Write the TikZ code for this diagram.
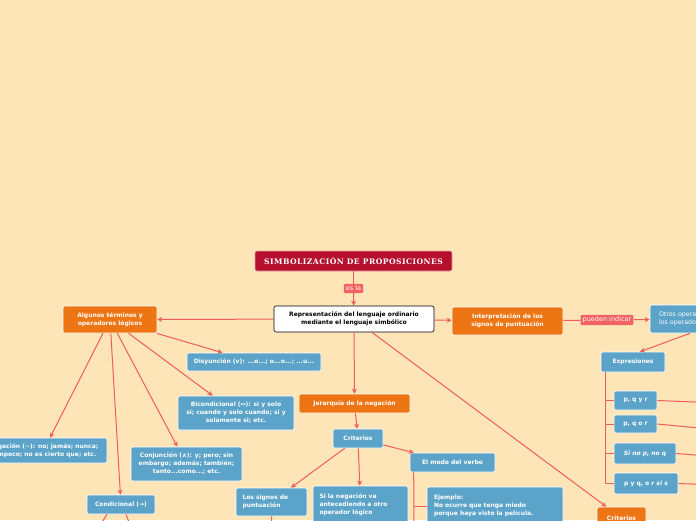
\documentclass[tikz,border=0pt]{standalone}
\usepackage{fontspec}
\setsansfont{DejaVu Sans}
\newfontfamily\titlefont[LetterSpace=6]{DejaVu Serif}
\usetikzlibrary{arrows.meta}
\definecolor{bgpeach}{RGB}{254,229,184}
\definecolor{mmorange}{RGB}{237,117,20}
\definecolor{mmblue}{RGB}{91,163,200}
\definecolor{mmline}{RGB}{240,92,90}
\definecolor{mmlabel}{RGB}{242,98,96}
\definecolor{mmtitle}{RGB}{181,17,47}

\begin{document}
\begin{tikzpicture}[x=1pt, y=-1pt,
    box/.style={rounded corners=2pt, draw=white, line width=0.6pt, text=white, align=center, inner sep=1.5pt,
      font=\sffamily\bfseries\fontsize{6}{8}\selectfont},
    topic/.style={box, fill=mmorange},
    idea/.style={box, fill=mmblue},
    lbl/.style={fill=mmlabel, text=white, inner sep=2pt, rounded corners=1pt,
      font=\sffamily\fontsize{6.5}{7}\selectfont},
    link/.style={draw=mmline, line width=1pt},
    arr/.style={link, -{Stealth[length=5pt,width=5pt]}}]
    \useasboundingbox (0,0) rectangle (696,520);
    \fill[bgpeach] (0,0) rectangle (696,520);
    \clip (0,0) rectangle (696,520);

    \node (title) [box, fill=mmtitle, draw=white!60!mmtitle, minimum width=197, minimum height=20,
      font=\titlefont\bfseries\fontsize{7.6}{8}\selectfont] at (353.5,261) {SIMBOLIZACIÓN DE PROPOSICIONES};
    \node (esla) [lbl] at (353.5,288.5) {es la};
    \node (main) [box, fill=white, draw=black, text=black, minimum width=160, minimum height=26] at (354,319)
      {Representación del lenguaje ordinario\\mediante el lenguaje simbólico};

    \node (interp) [topic, minimum width=111, minimum height=28] at (507.5,321)
      {Interpretación de los\\signos de puntuación};
    \node (pueden) [lbl] at (607,320) {pueden indicar};
    \node (otros) [idea, minimum width=100, minimum height=28, align=left, text width=82,
      font=\sffamily\fontsize{6.3}{8}\selectfont] at (700,319) {Otros operadores\\los operadores};
    \node (expr) [idea, minimum width=64, minimum height=20] at (633,362) {Expresiones};
    \node (pqyr) [idea, minimum width=43, minimum height=19] at (635.5,400.5) {p, q y r};
    \node (pqor) [idea, minimum width=43, minimum height=18] at (635.5,424) {p, q o r};
    \node (sinop) [idea, minimum width=62, minimum height=21] at (645,453.5) {\itshape Si no p, no q};
    \node (pyqo) [idea, minimum width=64, minimum height=21] at (646,483.5) {p y q, o r \textit{si} s};
    \node (critb) [topic, minimum width=49, minimum height=22] at (621.5,518) {Criterios};

    \node (alg) [topic, minimum width=94, minimum height=27] at (110,319.5)
      {Algunos términos y\\operadores lógicos};
    \node (disy) [idea, minimum width=134, minimum height=18] at (254,362)
      {Disyunción (v): ...o...; o...o...; ...u...};
    \node (bicond) [idea, minimum width=116, minimum height=34] at (236,413)
      {Bicondicional (↔): si y solo\\si; cuando y solo cuando; si y\\solamente si; etc.};
    \node (conj) [idea, minimum width=111, minimum height=34] at (186.5,464)
      {Conjunción (∧): y; pero; sin\\embargo; además; también;\\tanto...como...; etc.};
    \node (neg) [idea, minimum width=127, minimum height=25] at (43.5,450.5)
      {Negación (\textasciitilde): no; jamás; nunca;\\tampoco; no es cierto que; etc.};
    \node (cond) [idea, minimum width=68, minimum height=19] at (121,504.5) {Condicional (→)};

    \node (jer) [topic, minimum width=111, minimum height=19] at (354.5,403.5) {Jerarquía de la negación};
    \node (crita) [idea, minimum width=50, minimum height=19] at (358,438.5) {Criterios};
    \node (modo) [idea, minimum width=85, minimum height=19] at (452.5,462.5) {El modo del verbo};
    \node (signos) [idea, minimum width=71, minimum height=28, text width=58, align=left] at (271.5,502)
      {Los signos de\\puntuación};
    \node (sila) [idea, minimum width=95, minimum height=38, text width=82, align=left] at (360.5,505)
      {Si la negación va\\antecediendo a otro\\operador lógico};
    \node (ejem) [idea, minimum width=136, minimum height=38, text width=122, align=left] at (495,506)
      {Ejemplo:\\No ocurre que tenga miedo\\porque haya visto la película.};

    \coordinate (trunk) at ([xshift=5pt]expr.south west);
    \coordinate (modotrunk) at ([xshift=4pt]modo.south west);
    \coordinate (modoend) at (414,530);
    \coordinate (signosend) at (272,530);
    \coordinate (condl) at (97,530);
    \coordinate (condr) at (132,530);
    \coordinate (outa) at (720,403);
    \coordinate (outb) at (720,430);
    \coordinate (outc) at (720,457);
    \coordinate (outd) at (720,485);

    \draw[link] (title) -- (esla);
    \draw[arr] (esla) -- (main);
    \draw[arr] (main) -- (alg);
    \draw[arr] (main) -- (interp);
    \draw[arr] (main) -- (jer);
    \draw[arr] (main) -- (critb);
    \draw[link] (interp) -- (pueden);
    \draw[arr] (pueden) -- (otros);
    \draw[arr] ([xshift=-10pt]otros.south) -- ([xshift=7pt]expr.north);
    \draw[link] (trunk) |- (pyqo.west);
    \draw[link] (trunk |- pqyr.west) -- (pqyr.west);
    \draw[link] (trunk |- pqor.west) -- (pqor.west);
    \draw[link] (trunk |- sinop.west) -- (sinop.west);
    \draw[link] (pqyr.east) -- (outa);
    \draw[link] (pqor.east) -- (outb);
    \draw[link] (sinop.east) -- (outc);
    \draw[link] (pyqo.east) -- (outd);

    \draw[arr] (alg) -- (disy);
    \draw[arr] (alg) -- (bicond);
    \draw[arr] (alg) -- (conj);
    \draw[arr] (alg) -- (neg);
    \draw[arr] (alg) -- (cond);
    \draw[link] ([xshift=-14pt]cond.south) -- (condl);
    \draw[link] ([xshift=5pt]cond.south) -- (condr);

    \draw[arr] (jer) -- (crita);
    \draw[arr] (crita) -- (modo);
    \draw[arr] (crita) -- (signos);
    \draw[arr] (crita) -- (sila);
    \draw[link] (modotrunk) -- (modoend);
    \draw[link] (modotrunk |- ejem.west) -- (ejem.west);
    \draw[link] (signos.south) -- (signosend);
\end{tikzpicture}
\end{document}
